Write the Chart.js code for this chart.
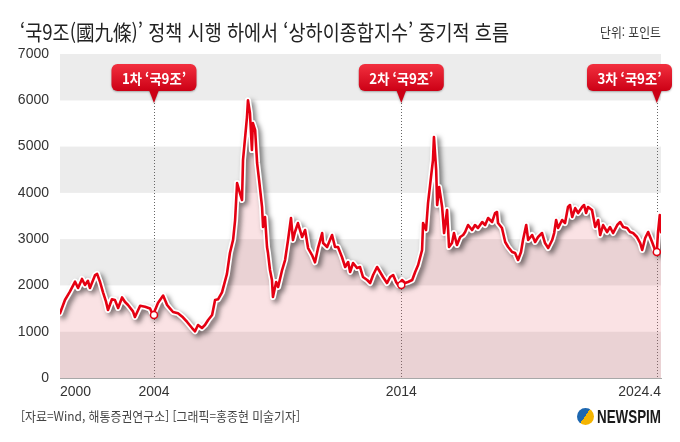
<!DOCTYPE html>
<html lang="ko">
<head>
<meta charset="utf-8">
<script src="https://cdn.jsdelivr.net/npm/chart.js@4.4.1/dist/chart.umd.min.js"></script>
<style>
    html, body { margin: 0; padding: 0; background: #fff; }
    #wrap { position: relative; width: 680px; height: 442px; overflow: hidden; font-family: 'Noto Sans CJK KR', sans-serif; }
    #chart-box { position: absolute; left: 0; top: 0; width: 680px; height: 442px; }
    .txt { position: absolute; white-space: nowrap; line-height: 1; transform-origin: left top; }
    #title { left: 20px; top: 21px; font-size: 21px; color: #222; }
    #unit { left: 600px; top: 25px; font-size: 13px; color: #333; }
    #source { left: 21px; top: 409px; font-size: 13px; color: #444; }
    #logo-text { left: 597px; top: 408px; font-size: 18px; font-weight: bold; color: #1a1a1a; font-family: 'Liberation Sans', sans-serif; }
    #globe { position: absolute; left: 577px; top: 408px; width: 17px; height: 17px; border-radius: 50%;
        background: linear-gradient(125deg, #1d67b0 0 48%, #f4b400 48% 100%); }
</style>
</head>
<body>
<div id="wrap">
    <div id="chart-box"><canvas id="chart-canvas"></canvas></div>
    <div class="txt" id="title">‘국9조(國九條)’ 정책 시행 하에서 ‘상하이종합지수’ 중기적 흐름</div>
    <div class="txt" id="unit">단위: 포인트</div>
    <div class="txt" id="source">[자료=Wind, 해통증권연구소] [그래픽=홍종현 미술기자]</div>
    <div id="globe"></div>
    <div class="txt" id="logo-text">NEWSPIM</div>
</div>
<script>
// Shanghai Composite (year as decimal, index in points)
const years = [
    2000.20, 2000.40, 2000.60, 2000.81, 2000.93, 2001.09, 2001.21, 2001.33, 2001.41, 2001.62, 2001.70, 2001.82, 2001.94, 2002.06, 2002.14, 2002.30, 2002.42, 2002.55, 2002.71, 2002.83, 2002.95, 2003.15, 2003.23, 2003.44, 2003.64, 2003.84, 2003.96,
    2004.16, 2004.37, 2004.53, 2004.65, 2004.77, 2004.97, 2005.17, 2005.34, 2005.54, 2005.66, 2005.78, 2005.94, 2006.06, 2006.19, 2006.35, 2006.47, 2006.59, 2006.75, 2006.95,
    2007.07, 2007.20, 2007.28, 2007.36, 2007.44, 2007.56, 2007.60, 2007.76, 2007.80, 2007.88, 2007.96, 2008.00, 2008.09, 2008.17, 2008.25, 2008.37, 2008.41, 2008.49, 2008.57, 2008.61, 2008.69, 2008.77, 2008.81, 2008.94,
    2009.02, 2009.18, 2009.30, 2009.42, 2009.54, 2009.62, 2009.70, 2009.82, 2009.99, 2010.11, 2010.23, 2010.39, 2010.51, 2010.63, 2010.80, 2010.84,
    2011.00, 2011.20, 2011.32, 2011.44, 2011.60, 2011.73, 2011.85, 2011.93, 2012.05, 2012.21, 2012.33, 2012.45, 2012.62, 2012.74, 2012.86,
    2013.02, 2013.14, 2013.26, 2013.42, 2013.55, 2013.67, 2013.79, 2013.87, 2014.03, 2014.15, 2014.27, 2014.44, 2014.56, 2014.68, 2014.84, 2014.88,
    2015.00, 2015.08, 2015.20, 2015.28, 2015.32, 2015.41, 2015.45, 2015.53, 2015.65, 2015.73, 2015.85, 2015.93, 2016.05, 2016.13, 2016.25, 2016.38, 2016.50, 2016.58, 2016.70, 2016.86, 2016.98,
    2017.10, 2017.27, 2017.39, 2017.51, 2017.67, 2017.79, 2017.87, 2017.91, 2018.07, 2018.20, 2018.32, 2018.48, 2018.60, 2018.72, 2018.84, 2018.92,
    2019.05, 2019.13, 2019.29, 2019.41, 2019.53, 2019.69, 2019.81, 2019.94, 2020.10, 2020.18, 2020.26, 2020.34, 2020.50, 2020.62, 2020.74, 2020.82, 2020.91,
    2021.03, 2021.15, 2021.31, 2021.39, 2021.47, 2021.55, 2021.71, 2021.84, 2021.96, 2022.04, 2022.16, 2022.32, 2022.44, 2022.56, 2022.73, 2022.85, 2022.97,
    2023.13, 2023.25, 2023.37, 2023.53, 2023.66, 2023.74, 2023.86, 2023.98, 2024.14, 2024.26, 2024.33, 2024.38, 2024.45, 2024.50
];
const index = [
    1400, 1685, 1865, 2080, 1944, 2140, 2009, 2100, 1944, 2225, 2250, 2074, 1850, 1650, 1469, 1700, 1685, 1512, 1740, 1642, 1577, 1440, 1318, 1560, 1540, 1500, 1360,
    1620, 1780, 1577, 1500, 1426, 1400, 1310, 1210, 1080, 1010, 1145, 1080, 1145, 1253, 1361, 1685, 1700, 1850, 2250,
    2700, 2990, 3413, 4212, 4061, 3845, 4709, 5638, 6000, 5724, 4925, 5508, 5357, 4644, 4277, 3694, 3262, 3478, 2830, 2700, 2333, 2117, 1750, 2074,
    1966, 2333, 2549, 2981, 3456, 2981, 3154, 3348, 3046, 3197, 2808, 2657, 2500, 2800, 3132, 2916,
    2830, 3089, 2830, 2830, 2614, 2398, 2506, 2290, 2484, 2376, 2398, 2182, 2117, 2052, 2225,
    2398, 2290, 2182, 2052, 2182, 2225, 2074, 2010, 2117, 2052, 2074, 2117, 2290, 2441, 2765, 3348,
    3197, 3780, 4342, 4709, 5206, 4493, 3737, 4126, 3694, 3132, 3629, 2830, 2916, 3132, 2873, 3046, 3089, 3154, 3305, 3197, 3305,
    3240, 3370, 3305, 3456, 3370, 3564, 3586, 3348, 3240, 2938, 2830, 2722, 2700, 2549, 2722, 2981,
    3305, 2981, 3089, 2938, 3046, 3132, 2916, 2808, 2981, 3132, 3413, 3240, 3413, 3348, 3694, 3737, 3478,
    3672, 3564, 3694, 3737, 3564, 3694, 3629, 3262, 3413, 3089, 3305, 3154, 3262, 3132, 3305, 3370, 3262,
    3240, 3154, 3132, 3046, 2916, 2765, 3024, 3154, 2938, 2765, 2720, 3154, 3521, 3150
];

// Axis ticks
const xTickValues = [2000.2, 2004, 2014, 2024.5];
const xTickLabels = ['2000', '2004', '2014', '2024.4'];

// The three '국9조' policy rounds
const eventYears = [2004, 2014, 2024.33];
const eventValues = [1360, 2010, 2720];
const eventLabels = ['1차 ‘국9조’', '2차 ‘국9조’', '3차 ‘국9조’'];

const RED = '#e50012';

Chart.defaults.font.family = "'Liberation Sans Narrow', 'Liberation Sans', sans-serif";
Chart.defaults.font.size = 14;
Chart.defaults.color = '#333';

// Gray bands every other 1000 points, and dotted event lines
const bands = {
    id: 'bands',
    beforeDatasetsDraw(chart) {
        const { ctx, chartArea: a, scales: { x, y } } = chart;
        ctx.save();
        ctx.fillStyle = '#ececec';
        for (let v = 0; v < 7000; v += 2000) {
            const top = y.getPixelForValue(v + 1000);
            ctx.fillRect(a.left, top, a.width, y.getPixelForValue(v) - top);
        }
        ctx.fillRect(a.left, y.getPixelForValue(7000), a.width, y.getPixelForValue(6000) - y.getPixelForValue(7000));
        ctx.strokeStyle = '#666';
        ctx.lineWidth = 1;
        ctx.setLineDash([1, 2]);
        eventYears.forEach(yr => {
            const px = Math.round(x.getPixelForValue(yr)) + 0.5;
            ctx.beginPath();
            ctx.moveTo(px, a.top + 49);
            ctx.lineTo(px, a.bottom);
            ctx.stroke();
        });
        ctx.restore();
    }
};

// Shadow under the white outline of the line
const lineShadow = {
    id: 'lineShadow',
    beforeDatasetDraw(chart, args) {
        if (args.index !== 1) return;
        const ctx = chart.ctx;
        ctx.save();
        ctx.shadowColor = 'rgba(0, 0, 0, 0.5)';
        ctx.shadowBlur = 5;
        ctx.shadowOffsetX = 3;
        ctx.shadowOffsetY = 3;
    },
    afterDatasetDraw(chart, args) {
        if (args.index !== 1) return;
        chart.ctx.restore();
    }
};

// Red callout boxes above each event line
const callouts = {
    id: 'callouts',
    afterDatasetsDraw(chart) {
        const { ctx, chartArea: a, scales: { x } } = chart;
        const w = 85, h = 27, r = 6;
        const top = a.top + 10, tip = a.top + 49;
        eventYears.forEach((yr, i) => {
            const cx = x.getPixelForValue(yr);
            let left = cx - w / 2;
            if (left + w > chart.width - 8) left = chart.width - 8 - w;
            ctx.save();
            const grad = ctx.createLinearGradient(0, top, 0, top + h);
            grad.addColorStop(0, '#f2303f');
            grad.addColorStop(1, '#cc0015');
            ctx.fillStyle = grad;
            ctx.shadowColor = 'rgba(0, 0, 0, 0.3)';
            ctx.shadowBlur = 2;
            ctx.shadowOffsetY = 1;
            ctx.beginPath();
            ctx.roundRect(left, top, w, h, r);
            ctx.fill();
            ctx.beginPath();
            ctx.moveTo(cx - 5, top + h - 1);
            ctx.lineTo(cx + 5, top + h - 1);
            ctx.lineTo(cx, tip);
            ctx.closePath();
            ctx.fillStyle = '#cc0015';
            ctx.fill();
            ctx.shadowColor = 'transparent';
            ctx.fillStyle = '#fff';
            ctx.font = "bold 14px 'Noto Sans CJK KR', sans-serif";
            ctx.textAlign = 'center';
            ctx.textBaseline = 'middle';
            ctx.fillText(eventLabels[i], left + w / 2, top + h / 2 + 1, 64);
            ctx.restore();
        });
    }
};

const points = years.map((yr, i) => ({ x: yr, y: index[i] }));
const markers = eventYears.map((yr, i) => ({ x: yr, y: eventValues[i] }));

const ctx = document.getElementById('chart-canvas');
new Chart(ctx, {
    type: 'line',
    data: {
        datasets: [
            {
                data: points,
                borderColor: 'transparent',
                borderWidth: 0,
                backgroundColor: 'rgba(228, 110, 122, 0.2)',
                fill: 'origin',
                pointRadius: 0,
                order: 3
            },
            {
                data: points,
                borderColor: '#fff',
                borderWidth: 6,
                borderJoinStyle: 'round',
                borderCapStyle: 'round',
                fill: false,
                pointRadius: 0,
                order: 2
            },
            {
                data: points,
                borderColor: RED,
                borderWidth: 2.6,
                borderJoinStyle: 'round',
                borderCapStyle: 'round',
                fill: false,
                pointRadius: 0,
                order: 1
            },
            {
                data: markers,
                showLine: false,
                pointRadius: 3.5,
                pointBackgroundColor: '#fff',
                pointBorderColor: RED,
                pointBorderWidth: 1.5,
                order: 0
            }
        ]
    },
    options: {
        responsive: true,
        maintainAspectRatio: false,
        animation: false,
        layout: { padding: { top: 54, right: 19, left: 0, bottom: 0 } },
        plugins: {
            legend: { display: false },
            tooltip: { enabled: false }
        },
        elements: { line: { tension: 0 } },
        scales: {
            x: {
                type: 'linear',
                min: 2000.2,
                max: 2024.5,
                afterBuildTicks: s => { s.ticks = xTickValues.map(value => ({ value })); },
                afterFit: s => { s.height = 64; },
                ticks: {
                    align: 'inner',
                    autoSkip: false,
                    maxRotation: 0,
                    padding: 6,
                    callback: (v, i) => xTickLabels[i]
                },
                grid: { display: false, drawTicks: false },
                border: { display: true, color: '#a8a8a8', width: 1 }
            },
            y: {
                min: 0,
                max: 7000,
                afterFit: s => { s.width = 60; },
                ticks: {
                    stepSize: 1000,
                    padding: 11,
                    callback: v => String(v)
                },
                grid: { display: false, drawTicks: false },
                border: { display: false }
            }
        }
    },
    plugins: [bands, lineShadow, callouts]
});

// Squeeze the header/footer texts to the widths of the original lettering
function fitWidth(id, width) {
    const el = document.getElementById(id);
    el.style.transform = `scaleX(${width / el.getBoundingClientRect().width})`;
}
fitWidth('title', 489);
fitWidth('unit', 61);
fitWidth('source', 279);
fitWidth('logo-text', 64);
</script>
</body>
</html>
